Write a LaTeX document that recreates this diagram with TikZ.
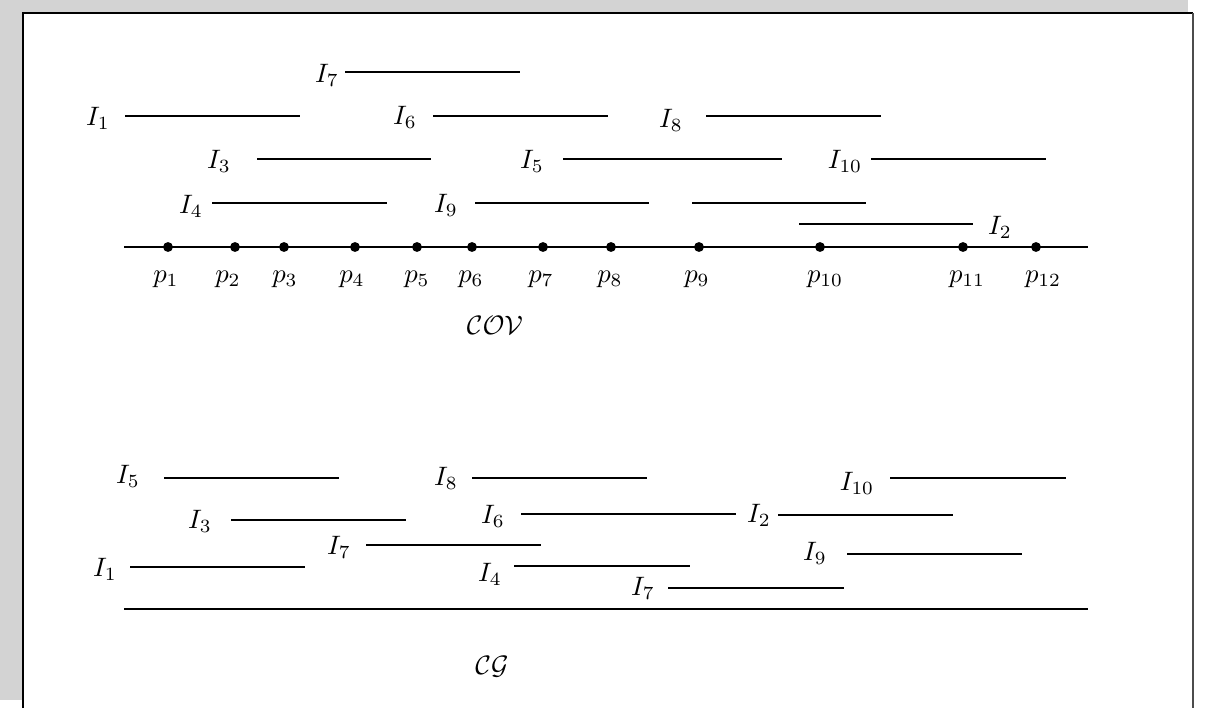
\documentclass[tikz,border=0pt]{standalone}
\begin{document}
\begin{tikzpicture}[x=0.375pt,y=-0.375pt,
  seg/.style={line width=0.5pt},
  lab/.style={inner sep=0pt,anchor=center},
  pt/.style={circle,fill=black,inner sep=0pt,minimum size=3.7pt}]
\definecolor{panelgray}{RGB}{211,211,211}
\useasboundingbox (0,0) rectangle (1205,708);
% page background and frame
\fill[white] (0,0) rectangle (1205,708);
\fill[panelgray] (0,0) rectangle (1188,700);
\fill[white] (23,13) rectangle (1193,708);
\draw[line width=0.5pt] (23,708) -- (23,13) -- (1193,13);
\draw[line width=0.8pt,black!70] (1193,13) -- (1193,708);

% ---------- cover: intervals over the point line ----------
\foreach \name/\txt/\lx/\ly/\xa/\xb/\yy in {
  c7/{I_7}/327/75/345/520/72,
  c1/{I_1}/98/118/125/300/116,
  c6/{I_6}/405/117/433/608/116,
  c8/{I_8}/671/120/706/881/116,
  c3/{I_3}/219/161/257/431/159,
  c5/{I_5}/532/161/563/782/159,
  c10/{I_{10}}/845/161/871/1046/159,
  c4/{I_4}/191/206/212/387/203,
  c9/{I_9}/446/205/475/649/203,
  c2/{I_2}/1000/227/799/973/224}
{
  \node[lab] (\name) at (\lx,\ly) {$\txt$};
  \draw[seg] (\xa,\yy) -- (\xb,\yy);
}
\draw[seg] (692,203) -- (866,203);

% point line with the points p_1 ... p_12
\coordinate (axisL) at (124,247);
\coordinate (axisR) at (1088,247);
\draw[seg] (axisL) -- (axisR);
\foreach \i/\px/\lx in {1/168/166,2/235/228,3/284/285,4/355/352,5/417/417,6/472/471,
                        7/543/541,8/611/610,9/699/697,10/820/825,11/963/967,12/1036/1043}
{
  \node[pt] (p\i) at (\px,247) {};
  \node[lab] (pl\i) at (\lx,279) {$p_{\i}$};
}
\node[lab] (cov) at (495,325) {$\mathcal{COV}$};

% ---------- graph: intervals over the base line ----------
\foreach \name/\txt/\lx/\ly/\xa/\xb/\yy in {
  g5/{I_5}/128/476/164/339/478,
  g8/{I_8}/446/478/472/647/478,
  g10/{I_{10}}/857/483/890/1066/478,
  g3/{I_3}/200/521/231/406/520,
  g6/{I_6}/493/516/521/736/514,
  g2/{I_2}/759/515/778/953/515,
  g7/{I_7}/339/547/366/541/545,
  g1/{I_1}/105/569/130/305/567,
  g4/{I_4}/490/574/514/690/566,
  g9/{I_9}/815/553/847/1022/554,
  g7b/{I_7}/643/588/668/844/588}
{
  \node[lab] (\name) at (\lx,\ly) {$\txt$};
  \draw[seg] (\xa,\yy) -- (\xb,\yy);
}
\coordinate (baseL) at (124,609);
\coordinate (baseR) at (1088,609);
\draw[seg] (baseL) -- (baseR);
\node[lab] (cg) at (492,667) {$\mathcal{CG}$};
\end{tikzpicture}
\end{document}
